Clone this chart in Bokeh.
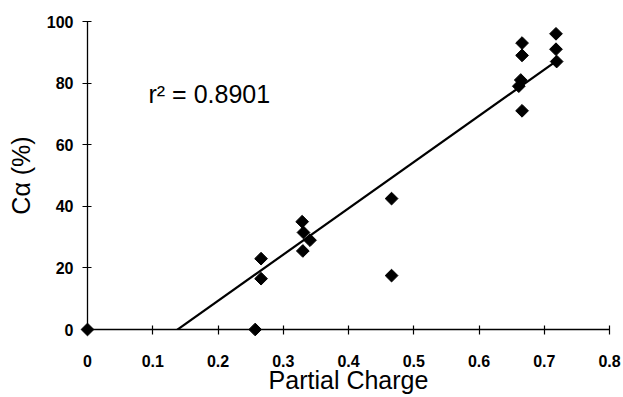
import numpy as np
from bokeh.plotting import figure
from bokeh.models import Range1d, FixedTicker, Label
from bokeh.embed import file_html
from bokeh.resources import INLINE

# Data
partial_charge = [0.0, 0.257, 0.266, 0.266, 0.329, 0.331, 0.341, 0.330, 0.466, 0.466,
                  0.666, 0.666, 0.664, 0.661, 0.666, 0.718, 0.718, 0.719]
c_alpha = [0.0, 0.0, 23.0, 16.5, 35.0, 31.5, 29.0, 25.5, 42.5, 17.5,
           93.0, 89.0, 81.0, 79.0, 71.0, 96.0, 91.0, 87.0]

x_ticks = [0, 0.1, 0.2, 0.3, 0.4, 0.5, 0.6, 0.7, 0.8]
x_tick_labels = ["0", "0.1", "0.2", "0.3", "0.4", "0.5", "0.6", "0.7", "0.8"]
y_ticks = [0, 20, 40, 60, 80, 100]
y_tick_labels = ["0", "20", "40", "60", "80", "100"]
r2_text = "r\u00b2 = 0.8901"
x_title = "Partial Charge"
y_title = "C\u03b1 (%)"

FONT = "Liberation Sans"

p = figure(width=623, height=397, output_backend="svg", toolbar_location=None,
           x_range=Range1d(0, 0.8), y_range=Range1d(0, 100),
           min_border_left=87, min_border_right=14, min_border_top=21, min_border_bottom=68)
p.outline_line_color = None
p.grid.visible = False
p.background_fill_color = "white"
p.border_fill_color = "white"

# Trend line (least squares fit of the data)
slope, intercept = np.polyfit(partial_charge, c_alpha, 1)
xs = np.array([min(partial_charge), max(partial_charge)])
p.line(xs, slope * xs + intercept, line_color="black", line_width=2.2)

# Points
p.scatter(partial_charge, c_alpha, marker="square", size=9, angle=np.pi / 4,
          fill_color="black", line_color="black", level="overlay")

# Axes
for ax in (p.xaxis[0], p.yaxis[0]):
    ax.axis_line_color = "black"
    ax.axis_line_width = 1.3
    ax.major_tick_line_color = "black"
    ax.major_tick_line_width = 1.2
    ax.major_tick_in = 4
    ax.major_tick_out = 5
    ax.minor_tick_line_color = None
    ax.major_label_text_font = FONT
    ax.major_label_text_font_size = "16px"
    ax.major_label_text_font_style = "bold"
    ax.major_label_text_color = "black"
    ax.axis_label_text_font = FONT
    ax.axis_label_text_font_size = "25px"
    ax.axis_label_text_font_style = "normal"
    ax.axis_label_text_color = "black"

p.xaxis.ticker = FixedTicker(ticks=x_ticks)
p.xaxis.major_label_overrides = dict(zip(x_ticks, x_tick_labels))
p.yaxis.ticker = FixedTicker(ticks=y_ticks)
p.yaxis.major_label_overrides = dict(zip(y_ticks, y_tick_labels))

p.xaxis.axis_label = x_title
p.xaxis.major_label_standoff = 20
p.xaxis.axis_label_standoff = -4
p.yaxis.axis_label = y_title
p.yaxis.major_label_standoff = 9
p.yaxis.axis_label_standoff = 9

p.add_layout(Label(x=0.0935, y=76.5, text=r2_text, text_font=FONT, text_font_size="25px",
                   text_color="black", text_baseline="alphabetic", text_align="left"))

open("out.html", "w").write(file_html(p, INLINE))
